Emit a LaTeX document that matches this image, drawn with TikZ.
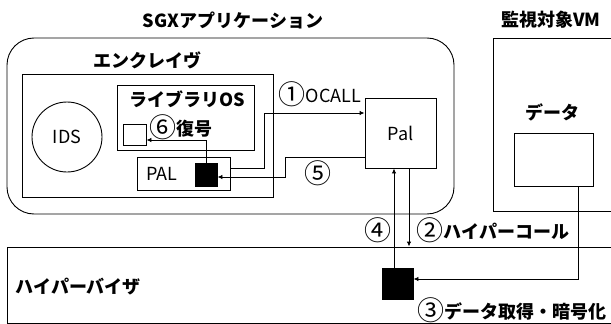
\documentclass[tikz,border=0pt]{standalone}
\usepackage{fontspec}
\setmainfont{Noto Sans CJK JP}
\usetikzlibrary{arrows.meta}
\newcommand{\cnum}[1]{{\fontsize{27}{20}\mdseries\selectfont\raisebox{-0.1ex}{#1}}}
\begin{document}
\begin{tikzpicture}[x=1pt,y=-1pt,line width=0.9pt,
  box/.style={draw,inner sep=0pt},
  blk/.style={draw,fill=black,inner sep=0pt},
  lbl/.style={font=\fontsize{18}{20}\selectfont},
  blbl/.style={font=\fontsize{18}{20}\selectfont\bfseries},
  arr/.style={-{Latex[length=5pt,width=4.5pt]}}]
\clip (0,0) rectangle (611,324);

\node[box,rounded corners=27pt,minimum width=447pt,minimum height=176pt] (sgx) at (230.5,126) {};
\node[box,minimum width=251pt,minimum height=123pt] (encl) at (147.5,135.5) {};
\node[box,minimum width=137pt,minimum height=65pt] (libos) at (185.5,117.5) {};
\node[box,circle,minimum size=70pt] (ids) at (67,137) {};
\node[lbl] at (ids) {IDS};
\node[box,minimum width=23pt,minimum height=21pt] (sq0) at (134.5,134.5) {};
\node[box,minimum width=93pt,minimum height=33pt] (pallib) at (183.5,173.5) {};
\node[lbl] (palt) at (162,174) {PAL};
\node[blk,minimum width=22pt,minimum height=23pt] (sq1) at (206,174.5) {};
\node[box,minimum width=71pt,minimum height=70pt] (palapp) at (400.5,133) {};
\node[lbl] at (palapp) {Pal};

\node[box,minimum width=127pt,minimum height=173pt] (vm) at (556.5,124.5) {};
\node[box,minimum width=79pt,minimum height=53pt] (data) at (553.5,159.5) {};
\node[box,minimum width=613pt,minimum height=76pt] (hv) at (313.5,285) {};
\node[blk,minimum width=31pt,minimum height=31pt] (sq2) at (397.5,283.5) {};

\node[blbl] (tsgx) at (233,20) {SGXアプリケーション};
\node[blbl] (tencl) at (147,60) {エンクレイヴ};
\node[blbl] (tlib) at (187,99) {ライブラリOS};
\node[blbl] (tdec) at (181,127) {\cnum{⑥}復号};
\node[lbl] (tocall) at (320,94) {\cnum{①}OCALL};
\node[lbl] (tfive) at (318,173) {\cnum{⑤}};
\node[lbl] (tfour) at (378,230) {\cnum{④}};
\node[blbl] (thcall) at (493,230) {\cnum{②}ハイパーコール};
\node[blbl] (tenc) at (512,310) {\cnum{③}データ取得・暗号化};
\node[blbl] (tvm) at (551,20) {監視対象VM};
\node[blbl] (tdata) at (552,112) {データ};
\node[blbl,anchor=west] (thv) at (12,287) {ハイパーバイザ};

\draw[arr] ([yshift=5.5pt]pallib.east) -- ++(34,0) |- ([yshift=20pt]palapp.west);
\draw[arr] ([yshift=-24pt]palapp.west) -- ++(-79,0) |- ([yshift=-2.5pt]sq1.east);
\draw[arr] (sq1.north) |- ([yshift=-5.5pt]sq0.east);
\draw[arr] ([xshift=-3.5pt]sq2.north) -- ([xshift=-6.5pt]palapp.south);
\draw[arr] ([xshift=8.5pt]palapp.south) coordinate (p2) -- (p2 |- hv.north);
\draw[arr] ([xshift=24.5pt]data.south) |- ([yshift=4.5pt]sq2.east);
\end{tikzpicture}
\end{document}
